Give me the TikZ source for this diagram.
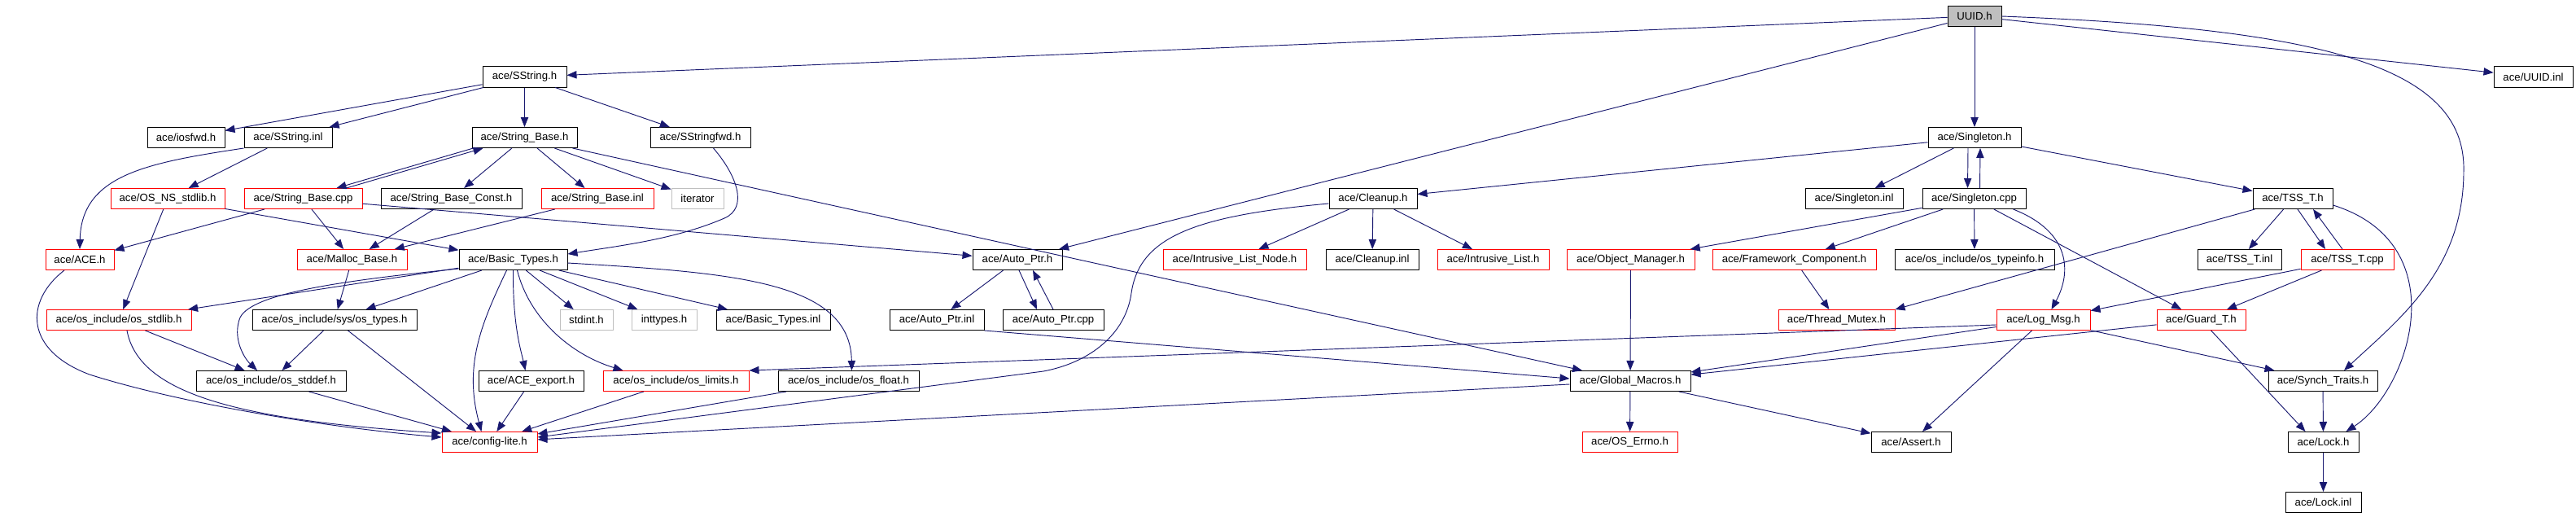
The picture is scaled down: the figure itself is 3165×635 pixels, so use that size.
\documentclass[tikz,border=0pt]{standalone}
\usepackage{fontspec}
\setmainfont{Liberation Sans}
\usetikzlibrary{arrows.meta,calc}
\definecolor{edgec}{RGB}{25,25,112}
\definecolor{redb}{RGB}{255,0,0}
\definecolor{grayb}{RGB}{191,191,191}
\tikzset{
  box/.style={draw=black, line width=0.75pt, inner sep=0pt, minimum height=18.75pt,
    font=\fontsize{9.9pt}{11pt}\selectfont, text=black, fill=white},
  trunc/.style={draw=redb},
  sysh/.style={draw=grayb},
  root/.style={fill=grayb},
  dep/.style={draw=edgec, line width=0.7pt, -{Triangle[length=9pt,width=7pt]}, fill=none},
}
\newcommand\dnode[6]{\node[box,#5,minimum width={(#3-#2)*0.75pt}] (#1) at ({(#2+#3)/2},#4) {#6};}
\begin{document}
\begin{tikzpicture}[x=0.75pt,y=-0.75pt]
\useasboundingbox (0,0) rectangle (3165,635);
\fill[white] (0,0) rectangle (3165,635);
% rows
\def\rA{20}\def\rB{94.5}\def\rC{169}\def\rD{244}\def\rE{319}\def\rF{393}\def\rG{468}\def\rH{543}\def\rI{617}
\dnode{uuid}{2393}{2459}{\rA}{root}{UUID.h}
\dnode{sstr}{593}{696}{\rB}{}{ace/SString.h}
\dnode{uinl}{3064}{3161}{\rB}{}{ace/UUID.inl}
\dnode{iosfwd}{181}{276}{\rC}{}{ace/iosfwd.h}
\dnode{ssinl}{300}{408}{\rC}{}{ace/SString.inl}
\dnode{sbh}{580}{709}{\rC}{}{ace/String\_Base.h}
\dnode{ssfwd}{799}{922}{\rC}{}{ace/SStringfwd.h}
\dnode{sgl}{2369}{2483}{\rC}{}{ace/Singleton.h}
\dnode{osns}{136}{276}{\rD}{trunc}{ace/OS\_NS\_stdlib.h}
\dnode{sbcpp}{300}{445}{\rD}{trunc}{ace/String\_Base.cpp}
\dnode{sbconst}{468}{641}{\rD}{}{ace/String\_Base\_Const.h}
\dnode{sbinl}{665}{803}{\rD}{trunc}{ace/String\_Base.inl}
\dnode{iter}{825}{889}{\rD}{sysh}{iterator}
\dnode{cleanup}{1633}{1741}{\rD}{}{ace/Cleanup.h}
\dnode{sglinl}{2218}{2338}{\rD}{}{ace/Singleton.inl}
\dnode{sglcpp}{2362}{2489}{\rD}{}{ace/Singleton.cpp}
\dnode{tssh}{2768}{2866}{\rD}{}{ace/TSS\_T.h}
\dnode{aceh}{56}{140}{\rE}{trunc}{ace/ACE.h}
\dnode{malloc}{365}{500}{\rE}{trunc}{ace/Malloc\_Base.h}
\dnode{btypes}{564}{697}{\rE}{}{ace/Basic\_Types.h}
\dnode{aph}{1195}{1305}{\rE}{}{ace/Auto\_Ptr.h}
\dnode{iln}{1429}{1605}{\rE}{trunc}{ace/Intrusive\_List\_Node.h}
\dnode{cinl}{1629}{1743}{\rE}{}{ace/Cleanup.inl}
\dnode{il}{1766}{1903}{\rE}{trunc}{ace/Intrusive\_List.h}
\dnode{om}{1925}{2082}{\rE}{trunc}{ace/Object\_Manager.h}
\dnode{fc}{2104}{2305}{\rE}{trunc}{ace/Framework\_Component.h}
\dnode{typeinfo}{2328}{2524}{\rE}{}{ace/os\_include/os\_typeinfo.h}
\dnode{tssinl}{2700}{2803}{\rE}{}{ace/TSS\_T.inl}
\dnode{tsscpp}{2827}{2941}{\rE}{trunc}{ace/TSS\_T.cpp}
\dnode{osstdlib}{57}{235}{\rF}{trunc}{ace/os\_include/os\_stdlib.h}
\dnode{ostypes}{310}{512}{\rF}{}{ace/os\_include/sys/os\_types.h}
\dnode{stdint}{688}{753}{\rF}{sysh}{stdint.h}
\dnode{inttypes}{776}{856}{\rF}{sysh}{inttypes.h}
\dnode{btinl}{880}{1020}{\rF}{}{ace/Basic\_Types.inl}
\dnode{apinl}{1093}{1209}{\rF}{}{ace/Auto\_Ptr.inl}
\dnode{apcpp}{1232}{1356}{\rF}{}{ace/Auto\_Ptr.cpp}
\dnode{thm}{2185}{2328}{\rF}{trunc}{ace/Thread\_Mutex.h}
\dnode{logmsg}{2453}{2568}{\rF}{trunc}{ace/Log\_Msg.h}
\dnode{guard}{2650}{2759}{\rF}{trunc}{ace/Guard\_T.h}
\dnode{osstddef}{241}{425}{\rG}{}{ace/os\_include/os\_stddef.h}
\dnode{aexp}{588}{717}{\rG}{}{ace/ACE\_export.h}
\dnode{oslim}{741}{920}{\rG}{trunc}{ace/os\_include/os\_limits.h}
\dnode{osfloat}{956}{1129}{\rG}{}{ace/os\_include/os\_float.h}
\dnode{gm}{1929}{2077}{\rG}{}{ace/Global\_Macros.h}
\dnode{synch}{2787}{2921}{\rG}{}{ace/Synch\_Traits.h}
\dnode{config}{543}{660}{\rH}{trunc}{ace/config-lite.h}
\dnode{errno}{1944}{2061}{\rH}{trunc}{ace/OS\_Errno.h}
\dnode{assert}{2299}{2397}{\rH}{}{ace/Assert.h}
\dnode{lock}{2811}{2898}{\rH}{}{ace/Lock.h}
\dnode{lockinl}{2808}{2901}{\rI}{}{ace/Lock.inl}
% edges
\begin{scope}[on background layer/.style={}]
\draw[dep] (uuid) -- (sstr);
\draw[dep] (uuid) -- (aph);
\draw[dep] (uuid) -- (sgl);
\draw[dep] (uuid) -- (uinl);
\draw[dep] (uuid.east) .. controls (2850,35) and (3030,80) .. (3027,210) .. controls (3027,330) and (2950,390) .. ($(synch.north)+(26,0)$);
\draw[dep] (sgl) -- (cleanup);
\draw[dep] (sgl) -- (sglinl);
\draw[dep] ($(sgl.south)+(-8,0)$) -- ($(sglcpp.north)+(-8,0)$);
\draw[dep] ($(sglcpp.north)+(7,0)$) -- ($(sgl.south)+(7,0)$);
\draw[dep] (sgl) -- (tssh);
\draw[dep] (sglcpp) -- (om);
\draw[dep] (sglcpp) -- (fc);
\draw[dep] (sglcpp) -- (typeinfo);
\draw[dep] ($(sglcpp.south)+(48,0)$) .. controls (2545,285) and (2545,335) .. ($(logmsg.north)+(10,0)$);
\draw[dep] (sglcpp) -- (guard);
\draw[dep] (tssh) -- (tssinl);
\draw[dep] ($(tssh.south)+(6,0)$) -- ($(tsscpp.north)+(-27,0)$);
\draw[dep] ($(tsscpp.north)+(-6,0)$) -- ($(tssh.south)+(25,0)$);
\draw[dep] (tssh) -- (thm.north east);
\draw[dep] ($(tssh.east)+(0,8)$) .. controls (3020,300) and (2960,480) .. ($(lock.north)+(28,0)$);
\draw[dep] (tsscpp) -- (logmsg);
\draw[dep] (tsscpp) -- (guard);
\draw[dep] (logmsg) -- (gm);
\draw[dep] ($(logmsg.west)+(0,6)$) -- (oslim.north east);
\draw[dep] (logmsg) -- (synch);
\draw[dep] (logmsg) -- (assert);
\draw[dep] (guard) -- (gm);
\draw[dep] (guard) -- ($(lock.north)+(-22,0)$);
\draw[dep] (synch) -- (lock);
\draw[dep] (lock) -- (lockinl);
\draw[dep] (fc) -- (thm);
\draw[dep] (om) -- (gm);
\draw[dep] (gm) -- (errno);
\draw[dep] (gm) -- (assert);
\draw[dep] (gm) -- (config);
\draw[dep] (cleanup) -- (iln);
\draw[dep] (cleanup) -- (cinl);
\draw[dep] (cleanup) -- (il);
\draw[dep] ($(cleanup.west)+(0,6)$) .. controls (1470,265) and (1400,290) .. (1390,360) .. controls (1383,410) and (1340,445) .. (1282,456) -- ($(config.east)+(0,-6)$);
\draw[dep] (osfloat) -- (config);
\draw[dep] (aph) -- (apinl);
\draw[dep] ($(aph.south)+(2,0)$) -- ($(apcpp.north)+(-20,0)$);
\draw[dep] (apcpp.north) -- ($(aph.south)+(19,0)$);
\draw[dep] (apinl.south east) -- ($(gm.west)+(0,-3)$);
\draw[dep] (sbh) -- (gm);
\draw[dep] (sbh) -- (iter);
\draw[dep] (sbh) -- (sbinl);
\draw[dep] (sbh) -- (sbconst);
\draw[dep] ($(sbh.south west)+(2,0)$) -- ($(sbcpp.north)+(41,0)$);
\draw[dep] ($(sbcpp.north)+(53,0)$) -- ($(sbh.south west)+(14,0)$);
\draw[dep] (sstr) -- (sbh);
\draw[dep] (sstr) -- (ssfwd);
\draw[dep] (sstr) -- (iosfwd);
\draw[dep] (sstr) -- (ssinl);
\draw[dep] (ssinl.south west) .. controls (180,200) and (100,215) .. (aceh.north);
\draw[dep] (ssinl) -- (osns);
\draw[dep] (osns) -- (btypes);
\draw[dep] (osns) -- (osstdlib);
\draw[dep] (sbcpp) -- (aceh);
\draw[dep] (sbcpp) -- (malloc);
\draw[dep] (sbcpp) -- (aph);
\draw[dep] (sbconst) -- (malloc);
\draw[dep] (sbinl) -- (malloc);
\draw[dep] ($(ssfwd.south)+(16,0)$) .. controls (905,215) and (920,255) .. (890,268) .. controls (830,294) and (760,302) .. ($(btypes.east)+(0,-7)$);
\draw[dep] ($(aceh.south)+(-19,0)$) .. controls (30,370) and (30,430) .. (110,460) .. controls (220,495) and (400,525) .. ($(config.west)+(0,-6)$);
\draw[dep] (malloc) -- (ostypes);
\draw[dep] (btypes) -- (osstdlib);
\draw[dep] ($(btypes.west)+(0,11)$) .. controls (420,345) and (310,360) .. (295,390) .. controls (285,415) and (300,440) .. ($(osstddef.north)+(-17,0)$);
\draw[dep] (btypes) -- (ostypes);
\draw[dep] ($(btypes.south)+(-8,0)$) .. controls (590,400) and (570,450) .. ($(config.north)+(-10,0)$);
\draw[dep] (btypes.south) .. controls (630,400) and (640,430) .. ($(aexp.north)+(-7,0)$);
\draw[dep] ($(btypes.south)+(5,0)$) .. controls (650,390) and (700,435) .. ($(oslim.north)+(-65,0)$);
\draw[dep] (btypes) -- (stdint);
\draw[dep] (btypes) -- (inttypes);
\draw[dep] (btypes) -- (btinl);
\draw[dep] ($(btypes.east)+(0,4)$) .. controls (900,335) and (1045,345) .. ($(osfloat.north)+(4,0)$);
\draw[dep] (osstdlib) -- (osstddef);
\draw[dep] ($(osstdlib.south)+(10,0)$) .. controls (170,480) and (280,515) .. ($(config.west)+(0,-11)$);
\draw[dep] (ostypes) -- (osstddef);
\draw[dep] (ostypes) -- (config);
\draw[dep] (osstddef) -- (config);
\draw[dep] (aexp) -- (config);
\draw[dep] (oslim) -- (config);
\end{scope}
\end{tikzpicture}
\end{document}
